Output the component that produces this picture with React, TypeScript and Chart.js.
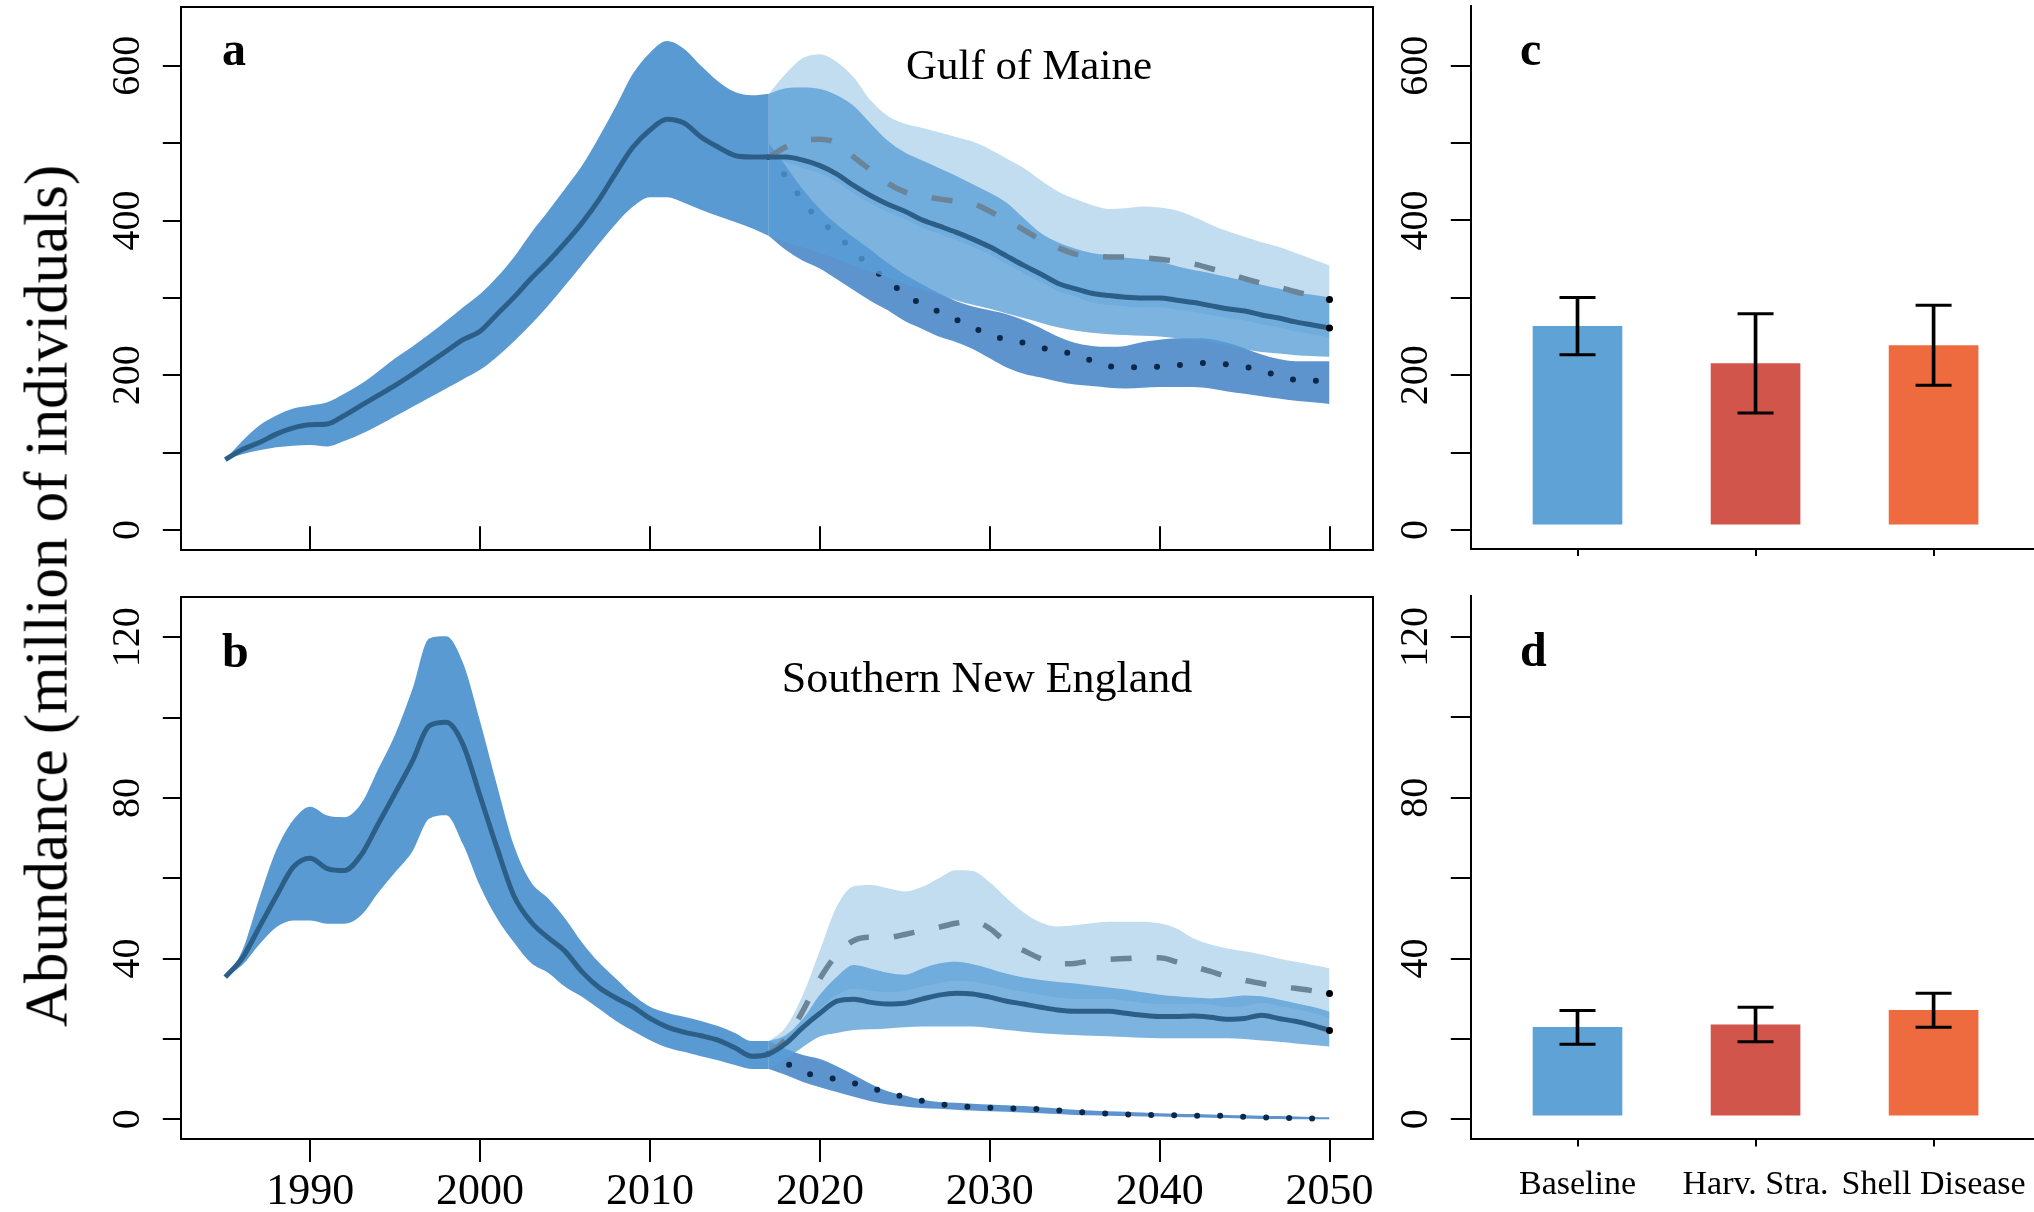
import React, { useEffect, useRef } from 'react';
import { Chart, registerables } from 'chart.js';

Chart.register(...registerables);

const FONT = '"Liberation Serif", "Times New Roman", Times, serif';
Chart.defaults.font.family = FONT;

// ---------- Data ----------
const HIST_YEARS = [1985,1986,1987,1988,1989,1990,1991,1992,1993,1994,1995,1996,1997,1998,1999,2000,2001,2002,2003,2004,2005,2006,2007,2008,2009,2010,2011,2012,2013,2014,2015,2016,2017];
const PROJ_YEARS = [2017,2018,2019,2020,2021,2022,2023,2024,2025,2026,2027,2028,2029,2030,2031,2032,2033,2034,2035,2036,2037,2038,2039,2040,2041,2042,2043,2044,2045,2046,2047,2048,2049,2050];
const X_TICKS = [1990, 2000, 2010, 2020, 2030, 2040, 2050];

// Panel a: Gulf of Maine
const A_HIST_MID = [91,104,113,124,132,136,137,148,161,174,187,201,216,231,246,257,279,301,325,347,371,397,427,462,495,517,531,526,508,495,484,482,482];
const A_HIST_HI = [91,115,135,148,157,161,165,176,189,205,222,237,253,270,288,305,327,353,384,412,441,471,508,548,590,617,632,622,600,580,566,562,564];
const A_HIST_LO = [91,98,103,107,109,110,108,115,124,135,147,159,171,183,195,207,224,244,266,290,316,343,370,396,418,430,430,423,414,406,398,390,380];
const A_BASE_MID = [482,482,478,471,460,445,432,421,412,401,393,385,376,366,354,342,331,319,312,306,303,301,300,300,297,294,290,286,283,278,274,269,265,261];
const A_BASE_HI = [564,571,572,570,562,548,525,503,488,478,468,458,447,436,423,403,384,372,364,358,355,352,350,347,341,336,332,327,322,317,312,307,304,301];
const A_BASE_LO = [380,372,365,358,350,342,334,326,318,311,304,297,291,286,280,274,268,262,258,255,253,252,251,250,248,246,243,238,234,230,228,226,225,224];
const A_HARV_MID = [482,495,503,505,500,482,465,448,437,432,428,425,422,412,400,388,375,365,357,354,353,353,352,350,347,344,338,332,325,319,314,308,303,298];
const A_HARV_HI = [564,590,610,615,605,585,555,535,525,520,514,508,502,492,480,468,452,438,428,420,415,416,418,417,413,405,395,386,379,372,366,358,350,342];
const A_HARV_LO = [482,476,468,461,450,435,422,411,402,391,383,375,366,356,344,332,321,309,302,294,291,289,288,288,285,282,278,274,271,266,262,257,253,249];
const A_SHELL_MID = [482,457,425,400,382,360,340,322,305,292,282,272,262,252,246,242,236,231,227,219,212,210,211,211,213,215,216,214,211,206,199,194,193,193];
const A_SHELL_HI = [500,470,440,415,395,378,362,345,330,318,306,296,289,284,279,271,261,250,242,238,237,238,243,246,248,248,247,242,235,227,221,218,218,218];
const A_SHELL_LO = [380,362,348,338,324,310,296,284,270,260,250,243,234,222,210,202,197,192,188,186,184,183,184,185,185,185,183,179,176,173,170,167,165,163];

// Panel b: Southern New England
const B_HIST_MID = [35.4,40.1,47.8,55.5,62.8,65.0,62.4,61.9,65.8,73.5,81.2,89.0,97.9,98.8,93.2,80.4,67.5,55.5,49.1,45.2,41.8,36.7,32.8,30.2,28.0,25.1,23.0,21.7,20.8,19.7,17.8,15.7,16.3];
const B_HIST_HI = [35.4,42,55,67,74.5,77.8,75.6,75.2,78.6,87.2,95.8,106.9,119.7,120.2,113.5,99,83,68,59,55,50,44,39,35,31,28,26.5,25.5,24.5,23.2,21.5,19.5,19.5];
const B_HIST_LO = [35.4,38.4,43.5,47.8,49.5,49.5,48.7,48.7,50.8,56.4,61.5,66.6,74.8,75.7,68.4,58,50,44,38.9,36.5,33,30.5,27.5,24.5,22,19.7,17.9,16.8,15.7,14.7,13.5,12.5,12.5];
const B_BASE_MID = [16.3,18.9,22.9,26.4,29.4,29.9,29.1,28.7,28.9,29.9,30.9,31.4,31.2,30.4,29.4,28.7,27.9,27.2,26.9,26.9,26.9,26.4,25.9,25.6,25.6,25.7,25.4,24.9,25.1,25.9,25.1,24.4,23.4,22.1];
const B_BASE_HI = [19.5,21,25,31,35.5,38.4,37.5,36.5,36,37.5,38.8,39.2,38.6,37.5,36.2,35.3,34.7,34.2,33.8,33.3,32.8,32.3,31.6,31,30.6,30.3,30.1,30.4,30.8,30.6,29.8,28.9,28,26.8];
const B_BASE_LO = [12.5,15,18,20.6,21.5,22.2,22.4,22.6,22.9,23.1,23.1,23.1,23.1,22.7,22.2,21.8,21.4,21.2,21,20.8,20.7,20.5,20.3,20.2,20.2,20.2,20.2,20.2,20,19.6,19.3,18.9,18.5,18.1];
const B_HARV_MID = [16.3,20,27,35,41,44.5,45.3,45.3,46,47,47.8,48.8,49.3,47.5,44,42,40,38.7,38.8,39.5,39.8,40,40.2,40.2,39.2,38,36.8,35.5,34.6,33.8,33,32.6,32,31.3];
const B_HARV_HI = [19.5,23,31,42,53,58,58.3,57.5,56.7,57.8,60,62,61.8,59,55,51.5,49,48,48.3,48.8,49.2,49.2,49.2,48.8,47.5,45,43.5,42.5,41.8,41,40,39.2,38.4,37.6];
const B_HARV_LO = [16.3,18.9,22.9,27.5,31,32.5,32,31.7,32,33,34,34.5,34.3,33.5,32.5,31.8,31,30.3,30,30,30,29.5,29,28.7,28.7,28.8,28.5,28,28.2,29,28.2,27.5,26.5,25.2];
const B_SHELL_MID = [16.3,14,11.8,10.7,10,9,7.8,6.6,5.5,4.6,3.8,3.3,3.1,2.9,2.7,2.7,2.5,2.2,1.9,1.6,1.4,1.2,1.1,1.1,1.0,0.9,0.9,0.8,0.6,0.5,0.4,0.3,0.2,0.2];
const B_SHELL_HI = [19.5,17.5,16,15,13.2,11,8.8,7,5.9,4.9,4.3,4.1,3.9,3.7,3.5,3.3,3.0,2.7,2.4,2.2,2.0,1.9,1.7,1.5,1.4,1.3,1.2,1.1,1.0,0.9,0.8,0.7,0.6,0.5];
const B_SHELL_LO = [12.5,11,9.3,8,6.8,5.6,4.5,3.7,3.2,2.8,2.6,2.4,2.2,2.0,1.9,1.7,1.5,1.3,1.1,1.0,0.9,0.8,0.7,0.7,0.6,0.5,0.4,0.3,0.2,0.1,0.1,0,0,0];

// Panels c, d: bar summaries
const SCENARIOS = ['Baseline', 'Harv. Stra.', 'Shell Disease'];
const SCENARIO_POS = [1, 2, 3];
const C_MEAN = [263.1, 215.0, 238.3];
const C_LOW = [226.5, 151.3, 186.9];
const C_HIGH = [300.6, 279.4, 290.3];
const D_MEAN = [22.9, 23.5, 27.1];
const D_LOW = [18.7, 19.3, 22.9];
const D_HIGH = [27.1, 27.9, 31.4];

const A_Y_TICKS = [0, 100, 200, 300, 400, 500, 600];
const A_Y_LABELS = [0, 200, 400, 600];
const B_Y_TICKS = [0, 20, 40, 60, 80, 100, 120];
const B_Y_LABELS = [0, 40, 80, 120];

// ---------- Styles ----------
const HIST_FILL = '#5a9ad2';
const HARV_FILL = '#c2ddf0';
const SHELL_FILL = '#5d94ce';
const BASE_FILL = 'rgba(88,158,214,0.78)';
const SOLID_COLOR = '#2c5f88';
const DASH_COLOR = '#6b8497';
const DOT_COLOR = '#0c2848';
const BAR_COLORS = ['#5fa3d6', '#d2554b', '#ee6a3f'];

const pts = (xs: number[], ys: number[]) => xs.map((x, i) => ({ x, y: ys[i] }));

const ticksFrom = (vals: number[]) => (s: any) => {
  s.ticks = vals.map((v) => ({ value: v }));
};
const fitTo = (w?: number, h?: number) => (s: any) => {
  if (w !== undefined) s.width = w;
  if (h !== undefined) s.height = h;
  s.paddingLeft = 0; s.paddingRight = 0; s.paddingTop = 0; s.paddingBottom = 0;
};

function frameAxis(position: 'top' | 'right') {
  return {
    type: 'linear', position, display: true,
    grid: { display: false, drawTicks: false },
    ticks: { display: false },
    border: { display: true, color: '#000', width: 2 },
    afterFit: position === 'top' ? fitTo(undefined, 0) : fitTo(0, undefined),
  };
}

function yAxis(min: number, max: number, ticks: number[], labels: number[], width: number, tl: number, pad: number) {
  return {
    type: 'linear', position: 'left', bounds: 'data', min, max,
    afterBuildTicks: ticksFrom(ticks),
    afterFit: fitTo(width, undefined),
    ticks: {
      autoSkip: false, minRotation: 90, maxRotation: 90, crossAlign: 'center', padding: pad,
      color: '#000', font: { family: FONT, size: 40 },
      callback: (v: number) => (labels.includes(v) ? String(v) : ''),
    },
    grid: { drawOnChartArea: false, drawTicks: true, tickLength: tl, color: '#000', lineWidth: 2, offset: false },
    border: { display: true, color: '#000', width: 2 },
  };
}

const endDot = (ctx: any) => (ctx.dataIndex === ctx.dataset.data.length - 1 ? 3.5 : 0);

function lineConfig(d: any) {
  const common = {
    xAxisID: 'x', yAxisID: 'y', pointRadius: 0, pointHoverRadius: 0, pointHitRadius: 0,
    cubicInterpolationMode: 'monotone',
  };
  const bandPair = (xs: number[], lo: number[], hi: number[], color: string, order: number) => [
    { ...common, data: pts(xs, lo), borderWidth: 0, borderColor: 'rgba(0,0,0,0)', backgroundColor: 'rgba(0,0,0,0)', fill: false, order },
    { ...common, data: pts(xs, hi), borderWidth: 0, borderColor: 'rgba(0,0,0,0)', backgroundColor: color, fill: '-1', order },
  ];
  const solid = pts(HIST_YEARS, d.histMid).concat(pts(PROJ_YEARS, d.baseMid).slice(1));
  const datasets = [
    ...bandPair(HIST_YEARS, d.histLo, d.histHi, HIST_FILL, 10),
    ...bandPair(PROJ_YEARS, d.harvLo, d.harvHi, HARV_FILL, 9),
    ...bandPair(PROJ_YEARS, d.shellLo, d.shellHi, SHELL_FILL, 8),
    ...bandPair(PROJ_YEARS, d.baseLo, d.baseHi, BASE_FILL, 7),
    { ...common, data: pts(PROJ_YEARS, d.shellMid), borderColor: DOT_COLOR, borderWidth: 6, borderDash: [0, 23], borderCapStyle: 'round', fill: false, order: 7.5 },
    { ...common, data: pts(PROJ_YEARS, d.harvMid), borderColor: DASH_COLOR, borderWidth: 5.5, borderDash: [21, 25], fill: false, order: 2, pointRadius: endDot, pointBackgroundColor: '#000', pointBorderWidth: 0 },
    { ...common, data: solid, borderColor: SOLID_COLOR, borderWidth: 5, fill: false, order: 1, pointRadius: endDot, pointBackgroundColor: '#000', pointBorderWidth: 0 },
  ];
  return {
    type: 'line',
    data: { datasets },
    options: {
      responsive: false, animation: false, devicePixelRatio: 1, events: [],
      layout: { padding: { left: 0, right: 27, top: d.padTop, bottom: d.padBottom }, autoPadding: false },
      plugins: { legend: { display: false }, tooltip: { enabled: false } },
      scales: {
        x: {
          type: 'linear', position: 'bottom', bounds: 'data', min: 1982.38, max: 2052.56,
          afterBuildTicks: ticksFrom(X_TICKS),
          afterFit: fitTo(undefined, d.xHeight),
          ticks: {
            display: d.showXLabels, autoSkip: false, minRotation: 0, maxRotation: 0, padding: 4,
            color: '#000', font: { family: FONT, size: 44 }, callback: (v: number) => String(v),
          },
          grid: { drawOnChartArea: false, drawTicks: true, tickLength: d.xTickLen, color: '#000', lineWidth: 2, offset: false },
          border: { display: true, color: '#000', width: 2 },
        },
        y: yAxis(d.yMin, d.yMax, d.yTicks, d.yLabels, 180.8, 18, 4.5),
        xTop: frameAxis('top'),
        yRight: frameAxis('right'),
      },
    },
  };
}

function barConfig(d: any) {
  return {
    type: 'bar',
    data: {
      datasets: [
        {
          type: 'line', xAxisID: 'x', yAxisID: 'y', showLine: false, order: 1,
          data: SCENARIO_POS.flatMap((x, i) => [{ x, y: d.low[i] }, { x, y: d.high[i] }]),
          pointStyle: 'line', pointRadius: 18, pointHoverRadius: 18, pointBorderWidth: 3,
          pointBorderColor: '#000', pointBackgroundColor: '#000',
        },
        {
          type: 'bar', xAxisID: 'x', yAxisID: 'y', order: 2, grouped: false, barThickness: 3,
          data: SCENARIO_POS.map((x, i) => ({ x, y: [d.low[i], d.high[i]] })),
          backgroundColor: '#000', borderWidth: 0,
        },
        {
          type: 'bar', xAxisID: 'x', yAxisID: 'y', order: 3, grouped: false, barThickness: 89, base: d.base,
          data: SCENARIO_POS.map((x, i) => ({ x, y: d.mean[i] })),
          backgroundColor: BAR_COLORS, borderWidth: 0,
        },
      ],
    },
    options: {
      responsive: false, animation: false, devicePixelRatio: 1, events: [],
      layout: { padding: { left: 0, right: 0, top: d.padTop, bottom: 0 }, autoPadding: false },
      plugins: { legend: { display: false }, tooltip: { enabled: false } },
      scales: {
        x: {
          type: 'linear', position: 'bottom', bounds: 'data', min: 0.4007, max: 3.564, offset: false,
          afterBuildTicks: ticksFrom(SCENARIO_POS),
          afterFit: fitTo(undefined, d.xHeight),
          ticks: {
            display: d.showXLabels, autoSkip: false, minRotation: 0, maxRotation: 0, padding: 18.5,
            color: '#000', font: { family: FONT, size: 34 },
            callback: (v: number) => SCENARIOS[Math.round(v) - 1] ?? '',
          },
          grid: { drawOnChartArea: false, drawTicks: true, tickLength: 7, color: '#000', lineWidth: 2, offset: false },
          border: { display: true, color: '#000', width: 2 },
        },
        y: yAxis(d.yMin, d.yMax, d.yTicks, d.yLabels, 70.8, 20, 4.3),
      },
    },
  };
}

const makeA = () => lineConfig({
  histMid: A_HIST_MID, histLo: A_HIST_LO, histHi: A_HIST_HI,
  baseMid: A_BASE_MID, baseLo: A_BASE_LO, baseHi: A_BASE_HI,
  harvMid: A_HARV_MID, harvLo: A_HARV_LO, harvHi: A_HARV_HI,
  shellMid: A_SHELL_MID, shellLo: A_SHELL_LO, shellHi: A_SHELL_HI,
  yMin: -26.2, yMax: 676.1, yTicks: A_Y_TICKS, yLabels: A_Y_LABELS,
  padTop: 6.9, padBottom: 29.7, xHeight: 0, xTickLen: -24, showXLabels: false,
});
const makeB = () => lineConfig({
  histMid: B_HIST_MID, histLo: B_HIST_LO, histHi: B_HIST_HI,
  baseMid: B_BASE_MID, baseLo: B_BASE_LO, baseHi: B_BASE_HI,
  harvMid: B_HARV_MID, harvLo: B_HARV_LO, harvHi: B_HARV_HI,
  shellMid: B_SHELL_MID, shellLo: B_SHELL_LO, shellHi: B_SHELL_HI,
  yMin: -5.0, yMax: 130.0, yTicks: B_Y_TICKS, yLabels: B_Y_LABELS,
  padTop: 17, padBottom: 0, xHeight: 72.6, xTickLen: 22.6, showXLabels: true,
});
const makeC = () => barConfig({
  mean: C_MEAN, low: C_LOW, high: C_HIGH, base: 7.4,
  yMin: -24.6, yMax: 677.6, yTicks: A_Y_TICKS, yLabels: A_Y_LABELS,
  padTop: 5.7, xHeight: 31, showXLabels: false,
});
const makeD = () => barConfig({
  mean: D_MEAN, low: D_LOW, high: D_HIGH, base: 1.0,
  yMin: -5.0, yMax: 130.2, yTicks: B_Y_TICKS, yLabels: B_Y_LABELS,
  padTop: 16.1, xHeight: 72.6, showXLabels: true,
});

function ChartCanvas({ left, top, width, height, make }: any) {
  const ref = useRef<HTMLCanvasElement | null>(null);
  useEffect(() => {
    if (!ref.current) return;
    const chart = new Chart(ref.current, make() as any);
    return () => chart.destroy();
  }, []);
  return (
    <canvas
      ref={ref}
      width={width}
      height={height}
      style={{ position: 'absolute', left, top, width, height, display: 'block' }}
    />
  );
}

const textStyle = (extra: any) => ({
  position: 'absolute' as const, whiteSpace: 'nowrap' as const, lineHeight: 1, color: '#000',
  fontFamily: FONT, ...extra,
});

export default function App() {
  useEffect(() => {
    document.body.style.margin = '0';
    document.documentElement.style.overflow = 'hidden';
  }, []);
  return (
    <div style={{ position: 'absolute', left: 0, top: 0, width: 2034, height: 1212, overflow: 'hidden', background: '#fff' }}>
      <ChartCanvas left={0} top={0} width={1400} height={580} make={makeA} />
      <ChartCanvas left={0} top={580} width={1400} height={632} make={makeB} />
      <ChartCanvas left={1400} top={0} width={634} height={580} make={makeC} />
      <ChartCanvas left={1400} top={580} width={634} height={632} make={makeD} />

      <div style={textStyle({ left: 45.7, top: 595.5, fontSize: 61, transform: 'translate(-50%, -50%) rotate(-90deg)' })}>
        Abundance (million of individuals)
      </div>

      <div style={textStyle({ left: 222, top: 25.4, fontSize: 48, fontWeight: 'bold' })}>a</div>
      <div style={textStyle({ left: 222, top: 627, fontSize: 48, fontWeight: 'bold' })}>b</div>
      <div style={textStyle({ left: 1520, top: 24.8, fontSize: 48, fontWeight: 'bold' })}>c</div>
      <div style={textStyle({ left: 1520, top: 626.4, fontSize: 48, fontWeight: 'bold' })}>d</div>

      <div style={textStyle({ left: 1029, top: 42.5, fontSize: 43, transform: 'translateX(-50%)' })}>Gulf of Maine</div>
      <div style={textStyle({ left: 987, top: 656, fontSize: 44, transform: 'translateX(-50%)' })}>Southern New England</div>
    </div>
  );
}
